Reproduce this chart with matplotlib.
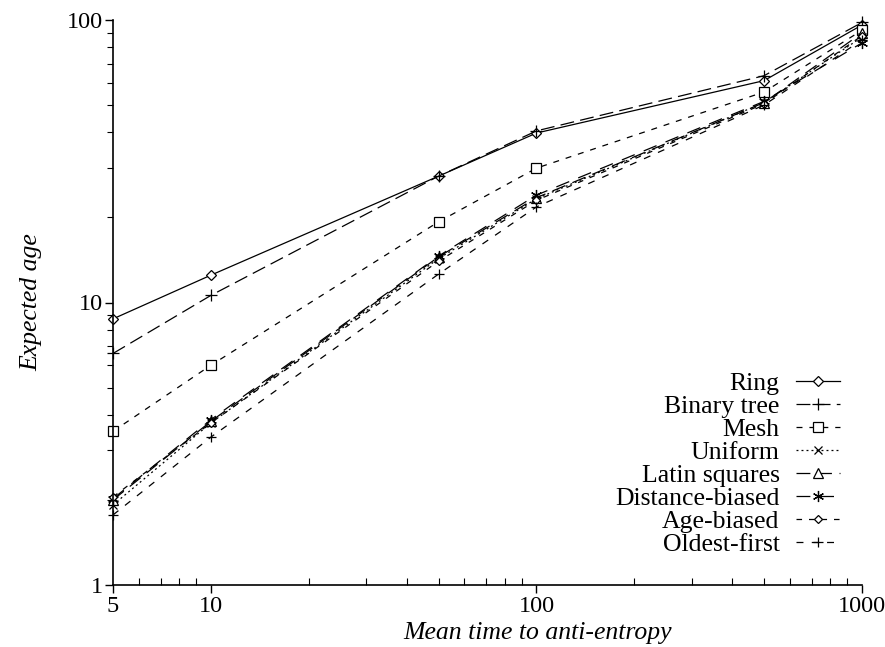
import matplotlib
matplotlib.use("Agg")
import matplotlib.pyplot as plt
from matplotlib.ticker import LogLocator, FixedLocator, NullFormatter, FixedFormatter

plt.rcParams['font.family'] = ['Liberation Serif', 'DejaVu Serif']
plt.rcParams['lines.scale_dashes'] = False

x = [5, 10, 50, 100, 500, 1000]
ring = [8.75, 12.5, 28.0, 39.8, 61, 96]
binary_tree = [6.6, 10.6, 28.0, 40.5, 63.5, 98]
mesh = [3.5, 6.0, 19.3, 29.9, 55.6, 92]
uniform = [1.92, 3.75, 14.3, 23.3, 51, 87]
latin_squares = [2.0, 3.8, 14.5, 23.5, 51, 90]
distance_biased = [2.02, 3.85, 14.6, 24.0, 51.5, 83]
age_biased = [2.05, 3.75, 14.0, 23.0, 50.5, 88]
oldest_first = [1.77, 3.34, 12.6, 21.8, 50, 85]

labels = ["Ring", "Binary tree", "Mesh", "Uniform", "Latin squares",
          "Distance-biased", "Age-biased", "Oldest-first"]
series = [ring, binary_tree, mesh, uniform, latin_squares,
          distance_biased, age_biased, oldest_first]
x_ticks = [5, 10, 100, 1000]
x_ticklabels = ["5", "10", "100", "1000"]
y_ticks = [1, 10, 100]
y_ticklabels = ["1", "10", "100"]

styles = [
    dict(ls='-', marker='D', ms=5.5, mfc='white'),
    dict(ls=(0, (10, 4.5)), marker='+', ms=8, mfc='none'),
    dict(ls=(0, (4.3, 5)), marker='s', ms=6.5, mfc='white'),
    dict(ls=(0, (1.4, 2.2)), marker='x', ms=6, mfc='none'),
    dict(ls=(0, (10, 5.5)), marker='^', ms=6.5, mfc='white'),
    dict(ls=(0, (10, 7)), marker=(6, 2, 0), ms=8, mfc='none'),
    dict(ls=(0, (4, 5)), marker='D', ms=4, mfc='white'),
    dict(ls=(0, (5, 6)), marker='+', ms=6.5, mfc='none'),
]

fig = plt.figure(figsize=(8.85, 6.47), dpi=100)
ax = fig.add_axes([113/885, 1-585/647, (862-113)/885, (585-20)/647])

for lab, ys, st in zip(labels, series, styles):
    ax.plot(x, ys, color='black', lw=0.9, linestyle=st['ls'], marker=st['marker'],
            ms=st['ms'], mfc=st['mfc'], mec='black', mew=0.9, label=lab,
            clip_on=False)

ax.set_xscale('log')
ax.set_yscale('log')
ax.set_xlim(5, 1000)
ax.set_ylim(1, 100)

ax.xaxis.set_major_locator(FixedLocator(x_ticks))
ax.xaxis.set_major_formatter(FixedFormatter(x_ticklabels))
ax.xaxis.set_minor_locator(LogLocator(base=10, subs=range(2, 10)))
ax.xaxis.set_minor_formatter(NullFormatter())
ax.yaxis.set_major_locator(FixedLocator(y_ticks))
ax.yaxis.set_major_formatter(FixedFormatter(y_ticklabels))
ax.yaxis.set_minor_locator(LogLocator(base=10, subs=range(2, 10)))
ax.yaxis.set_minor_formatter(NullFormatter())

for s in ['top', 'right']:
    ax.spines[s].set_visible(False)
for s in ['left', 'bottom']:
    ax.spines[s].set_linewidth(1.2)

ax.tick_params(axis='both', which='major', direction='out', length=6, width=1.0,
               labelsize=17.5, pad=2)
ax.tick_params(axis='y', which='major', pad=1)
ax.tick_params(axis='x', which='minor', direction='in', length=5, width=0.8)
ax.tick_params(axis='y', which='minor', direction='out', length=4, width=0.8)

ax.set_xlabel('Mean time to anti-entropy', fontsize=18.5, style='italic')
ax.xaxis.set_label_coords(0.567, -0.065)
ax.set_ylabel('Expected age', fontsize=18.5, style='italic')
ax.yaxis.set_label_coords(-0.095, 0.5)

leg = ax.legend(loc='center right', bbox_to_anchor=(0.9706, 0.214), frameon=False,
                markerfirst=False, fontsize=18.5, handlelength=1.7, handletextpad=0.65,
                labelspacing=0.0, borderpad=0, borderaxespad=0, numpoints=1)
for t in leg.get_texts():
    t.set_ha('right')

fig.savefig('out.png', dpi=100)
